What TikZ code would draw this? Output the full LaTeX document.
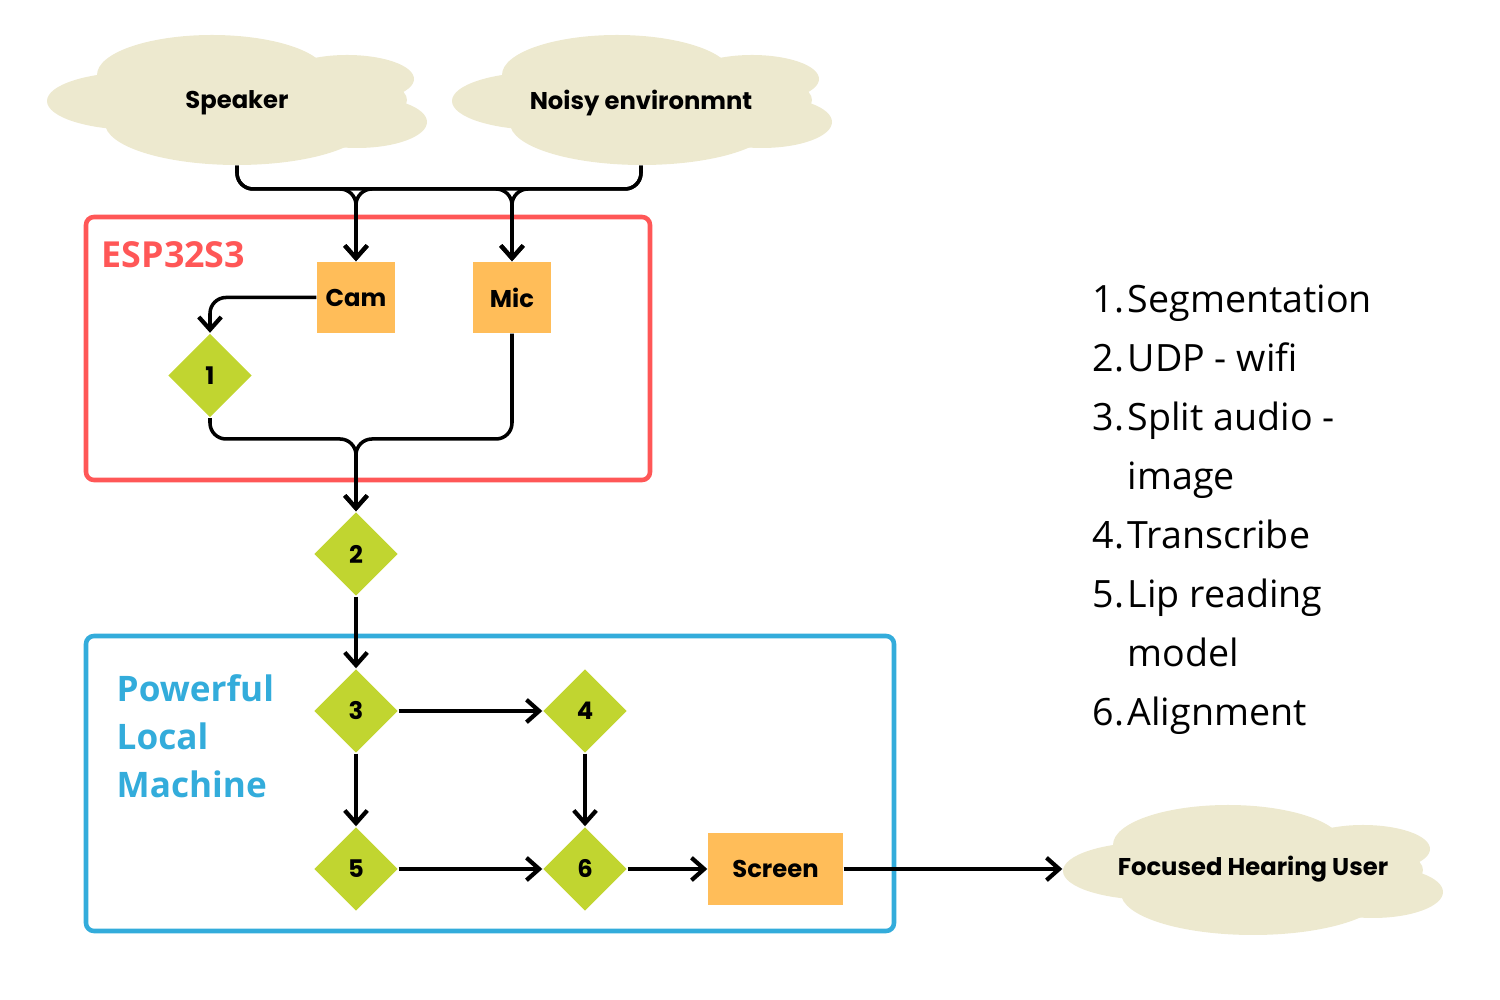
\documentclass[tikz,border=0pt]{standalone}
\usepackage{fontspec}
\setmainfont{Open Sans}
\newfontfamily\boxfont{Poppins}
\usepackage{xcolor}
\usetikzlibrary{shapes.geometric}
\usetikzlibrary{arrows.meta}

\definecolor{cloudtan}{HTML}{EDE9CF}
\definecolor{boxorange}{HTML}{FFBD59}
\definecolor{stepgreen}{HTML}{C1D530}
\definecolor{espred}{HTML}{FF5757}
\definecolor{hostblue}{HTML}{33ACDB}

\newcommand{\puffs}[2]{
	\begin{scope}[shift={(#1,#2)}]
		\fill [cloudtan](0.90,-0.66) ellipse (0.90 and 0.29);
		\fill [cloudtan](1.65,-0.40) ellipse (1.15 and 0.40);
		\fill [cloudtan](1.90,-0.88) ellipse (1.32 and 0.42);
		\fill [cloudtan](3.00,-0.44) ellipse (0.67 and 0.24);
		\fill [cloudtan](3.10,-0.87) ellipse (0.70 and 0.26);
		\fill [cloudtan](1.90,-0.65) ellipse (1.70 and 0.40);
	\end{scope}
}

\tikzset{
	cloudtext/.style={minimum width=3.8cm, minimum height=1.24cm, inner sep=0pt, font=\boxfont\bfseries\fontsize{6.9}{8}\selectfont},
	hwbox/.style={fill=boxorange, minimum width=0.78cm, minimum height=0.71cm, inner sep=0pt, font=\boxfont\bfseries\fontsize{6.9}{8}\selectfont},
	stepnode/.style={diamond, fill=stepgreen, minimum width=0.84cm, minimum height=0.84cm, inner sep=0pt, font=\boxfont\bfseries\fontsize{6.9}{8}\selectfont},
	flow/.style={line width=1pt, -{Straight Barb[length=3.6pt, width=6.4pt, line width=1.2pt]}, rounded corners=0.16cm},
	frame/.style={line width=1.3pt, rounded corners=0.08cm}
}

\begin{document}
\begin{tikzpicture}
				\useasboundingbox (0,0) rectangle (15,-10);
				\puffs{0.47}{-0.35}
				\puffs{4.52}{-0.35}
				\puffs{10.63}{-8.05}
				\node [cloudtext] (spk) at (2.37,-1.03){Speaker};
				\node [cloudtext] (noise) at (6.41,-1.03){Noisy environmnt};
				\node [cloudtext] (user) at (12.53,-8.69){Focused Hearing User};
				\draw [frame, espred](0.86,-2.17) rectangle (6.50,-4.80);
				\draw [frame, hostblue](0.86,-6.36) rectangle (8.94,-9.31);
				\node [anchor=west, inner sep=0pt, text=espred, font=\bfseries\fontsize{10.2}{12}\selectfont] (esp) at (1.01,-2.55){ESP32S3};
				\node [anchor=north west, align=left, text=hostblue, font=\bfseries\fontsize{10}{13.7}\selectfont, inner sep=0pt] (host) at (1.16,-6.74){Powerful\\Local\\Machine};
				\node [hwbox] (cam) at (3.56,-2.975){Cam};
				\node [hwbox] (mic) at (5.12,-2.975){Mic};
				\node [stepnode] (s1) at (2.10,-3.755){1};
				\node [stepnode] (s2) at (3.56,-5.54){2};
				\node [stepnode] (s3) at (3.56,-7.11){3};
				\node [stepnode] (s4) at (5.85,-7.11){4};
				\node [stepnode] (s5) at (3.56,-8.69){5};
				\node [stepnode] (s6) at (5.85,-8.69){6};
				\node [hwbox, minimum width=1.35cm, minimum height=0.72cm] (screen) at (7.755,-8.69){Screen};
				\coordinate (busin) at (0,-1.89);
				\coordinate (busout) at (0,-4.39);
				\draw [flow](spk.south) |- (busin -| cam) -- (cam.north);
				\draw [flow](spk.south) |- (busin -| mic) -- (mic.north);
				\draw [flow](noise.south) |- (busin -| cam) -- (cam.north);
				\draw [flow](noise.south) |- (busin -| mic) -- (mic.north);
				\draw [flow](cam.west) -| (s1.north);
				\draw [flow](s1.south) |- (busout -| s2) -- (s2.north);
				\draw [flow](mic.south) |- (busout -| s2) -- (s2.north);
				\draw [flow](s2) -- (s3);
				\draw [flow](s3) -- (s4);
				\draw [flow](s3) -- (s5);
				\draw [flow](s4) -- (s6);
				\draw [flow](s5) -- (s6);
				\draw [flow](s6) -- (screen);
				\draw [flow](screen) -- (user.west);
				\node [anchor=west, inner sep=0pt, font=\fontsize{10.7}{16.8}\selectfont] (steps) at (10.92,-5.075){\begin{tabular}{@{}p{0.35cm}@{}l@{}}
					1. & Segmentation\\
					2. & UDP - wifi\\
					3. & Split audio -\\
					 & image\\
					4. & Transcribe\\
					5. & Lip reading\\
					 & model\\
					6. & Alignment
				\end{tabular}};
			\end{tikzpicture}
\end{document}
